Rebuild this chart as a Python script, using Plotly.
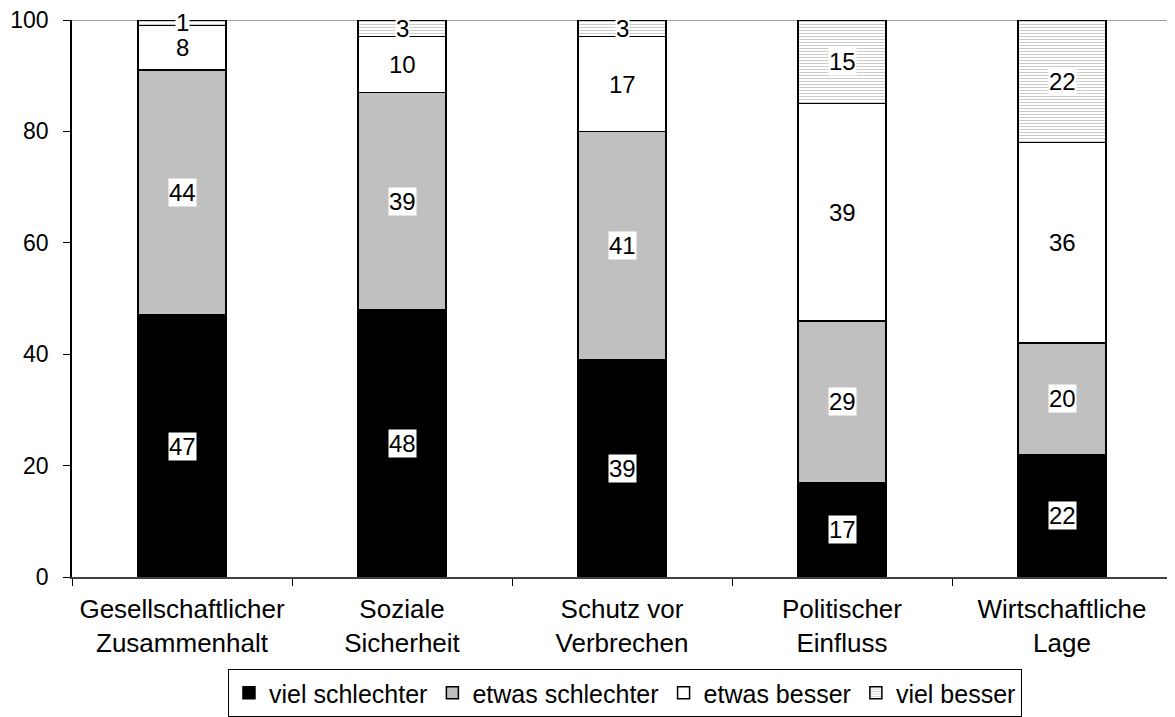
import plotly.graph_objects as go

categories = ["Gesellschaftlicher<br>Zusammenhalt", "Soziale<br>Sicherheit",
              "Schutz vor<br>Verbrechen", "Politischer<br>Einfluss", "Wirtschaftliche<br>Lage"]
viel_schlechter = [47, 48, 39, 17, 22]
etwas_schlechter = [44, 39, 41, 29, 20]
etwas_besser = [8, 10, 17, 39, 36]
viel_besser = [1, 3, 3, 15, 22]
series_names = ["viel schlechter", "etwas schlechter", "etwas besser", "viel besser"]
y_ticks = [0, 20, 40, 60, 80, 100]

FONT = "Liberation Sans, Arial, sans-serif"
series = [viel_schlechter, etwas_schlechter, etwas_besser, viel_besser]
fills = ["#000000", "#c0c0c0", "#ffffff", "#ffffff"]

fig = go.Figure()
for i, (name, vals) in enumerate(zip(series_names, series)):
    marker = dict(color=fills[i], line=dict(color="black", width=1.5))
    if i == 3:
        marker["pattern"] = dict(shape="-", fgcolor="#9a9a9a", bgcolor="#ffffff",
                                 size=3, solidity=0.35, fillmode="overlay")
    fig.add_trace(go.Bar(x=categories, y=vals, name=name, marker=marker))

annotations = []
base = [0] * len(categories)
for vals in series:
    for j, v in enumerate(vals):
        annotations.append(dict(x=categories[j], y=base[j] + v / 2, text=str(v),
                                showarrow=False, bgcolor="white", borderpad=0,
                                font=dict(family=FONT, size=24, color="black"),
                                xref="x", yref="y"))
        base[j] += v

# the page body adds an 8px offset; width/height/margins compensate for it
fig.update_layout(
    width=1167, height=709,
    barmode="stack", bargap=0.6,
    paper_bgcolor="white", plot_bgcolor="white",
    margin=dict(l=64, r=3, t=12, b=140, autoexpand=False),
    font=dict(family=FONT, size=24, color="black"),
    annotations=annotations,
    shapes=[dict(type="line", xref="paper", yref="y", x0=0, x1=1, y0=100, y1=100,
                 line=dict(color="#808080", width=1.5), layer="below")],
    legend=dict(orientation="h", x=0.1418, xanchor="left",
                yref="container", y=0.0, yanchor="bottom",
                bordercolor="black", borderwidth=1, font=dict(size=25, family=FONT),
                itemwidth=30, tracegroupgap=0, traceorder="normal"),
    showlegend=True,
)
fig.update_yaxes(range=[0, 100], tickvals=y_ticks, showgrid=False, zeroline=False,
                 showline=True, linecolor="black", linewidth=1.5,
                 ticks="outside", ticklen=7, tickcolor="black",
                 ticklabelstandoff=10, ticklabeloverflow="allow",
                 tickfont=dict(size=23, family=FONT))
fig.update_xaxes(showgrid=False, showline=True, linecolor="#404040", linewidth=1.5,
                 ticks="outside", ticklen=7, tickcolor="black", tickson="boundaries",
                 automargin=False, ticklabelstandoff=8,
                 tickfont=dict(size=26, family=FONT))

fig.write_html("out.html")
